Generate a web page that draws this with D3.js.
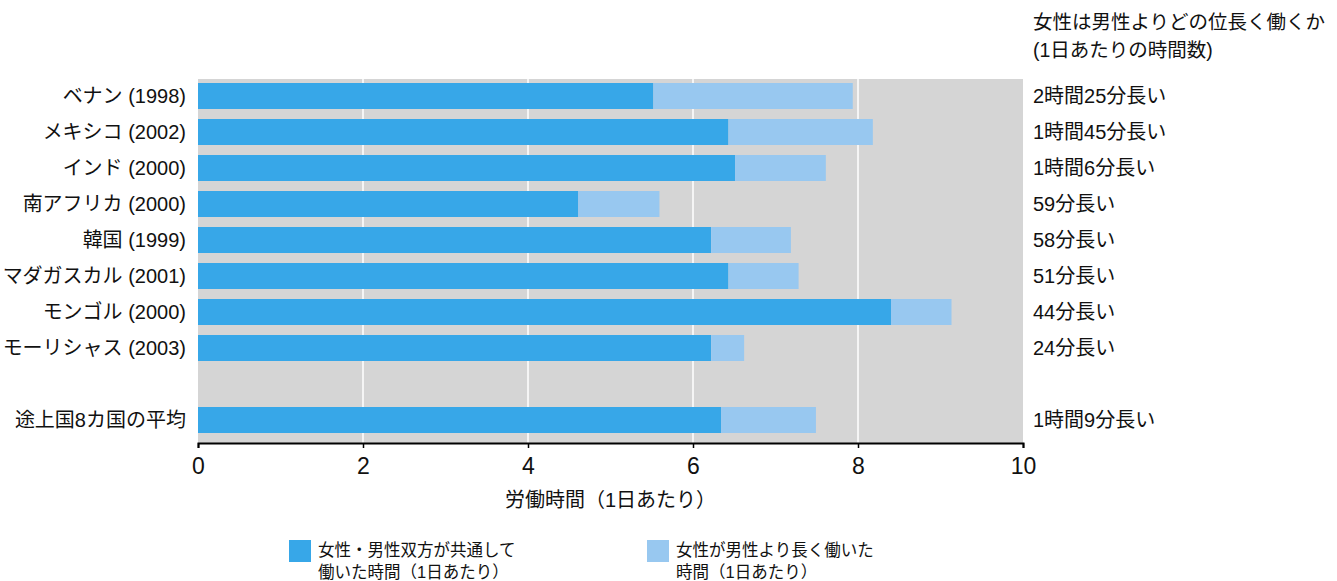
<!DOCTYPE html>
<html lang="ja">
<head>
<meta charset="utf-8">
<script src="https://cdn.jsdelivr.net/npm/d3@7"></script>
<style>
  html, body { margin: 0; padding: 0; background: #fff; }
  svg text { font-family: "Liberation Sans", "Noto Sans CJK JP", sans-serif; fill: #111; }
</style>
</head>
<body>
<svg id="chart" width="1337" height="581"></svg>
<script>
// Countries (survey year); an empty slot separates the individual countries from the average
const categories = [
  "ベナン (1998)", "メキシコ (2002)", "インド (2000)", "南アフリカ (2000)",
  "韓国 (1999)", "マダガスカル (2001)", "モンゴル (2000)", "モーリシャス (2003)",
  "", "途上国8カ国の平均"
];
// Hours per day worked by both women and men
const sharedHours = [5.52, 6.43, 6.51, 4.61, 6.22, 6.43, 8.40, 6.22, null, 6.34];
// Extra minutes per day worked by women
const extraMinutes = [145, 105, 66, 59, 58, 51, 44, 24, null, 69];
const extraLabels = [
  "2時間25分長い", "1時間45分長い", "1時間6分長い", "59分長い", "58分長い",
  "51分長い", "44分長い", "24分長い", "", "1時間9分長い"
];
const xTicks = [0, 2, 4, 6, 8, 10];
const gridTicks = [2, 4, 6, 8];
const titleLines = ["女性は男性よりどの位長く働くか", "(1日あたりの時間数)"];
const axisTitle = "労働時間（1日あたり）";
const legendItems = [
  { lines: ["女性・男性双方が共通して", "働いた時間（1日あたり）"], color: "#37A7E8" },
  { lines: ["女性が男性より長く働いた", "時間（1日あたり）"], color: "#98C8F0" }
];

const colorShared = "#37A7E8";
const colorExtra = "#98C8F0";

const svg = d3.select("#chart");
const plotLeft = 198, plotRight = 1023, plotTop = 79, plotBottom = 443;

const x = d3.scaleLinear().domain([0, 10]).range([plotLeft, plotRight]);
const y = d3.scaleBand().domain(d3.range(categories.length)).range([78, 438]).paddingInner(0.28).paddingOuter(0.14);

// Plot background
svg.append("rect")
  .attr("x", plotLeft).attr("y", plotTop)
  .attr("width", plotRight - plotLeft).attr("height", plotBottom - plotTop)
  .attr("fill", "#D5D5D5");

// Vertical gridlines
svg.append("g").selectAll("line").data(gridTicks).join("line")
  .attr("x1", d => x(d)).attr("x2", d => x(d))
  .attr("y1", plotTop).attr("y2", plotBottom)
  .attr("stroke", "#fff").attr("stroke-width", 1.5);

const rows = d3.range(categories.length).filter(i => sharedHours[i] != null);
const bh = 26;
const rowCenter = i => y(i) + y.bandwidth() / 2;

// Shared hours
svg.append("g").selectAll("rect").data(rows).join("rect")
  .attr("x", x(0))
  .attr("y", i => rowCenter(i) - bh / 2)
  .attr("width", i => x(sharedHours[i]) - x(0))
  .attr("height", bh)
  .attr("fill", colorShared);

// Extra hours worked by women
svg.append("g").selectAll("rect").data(rows).join("rect")
  .attr("x", i => x(sharedHours[i]))
  .attr("y", i => rowCenter(i) - bh / 2)
  .attr("width", i => x(sharedHours[i] + extraMinutes[i] / 60) - x(sharedHours[i]))
  .attr("height", bh)
  .attr("fill", colorExtra);

// Category labels
svg.append("g").selectAll("text").data(rows).join("text")
  .attr("x", 186).attr("y", i => rowCenter(i))
  .attr("dy", "0.36em")
  .attr("text-anchor", "end")
  .style("font-size", "20px")
  .text(i => categories[i]);

// Difference labels
svg.append("g").selectAll("text").data(rows).join("text")
  .attr("x", 1033).attr("y", i => rowCenter(i))
  .attr("dy", "0.36em")
  .style("font-size", "20px")
  .text(i => extraLabels[i]);

// Column title
svg.append("g").selectAll("text").data(titleLines).join("text")
  .attr("x", 1033).attr("y", (d, i) => 22 + i * 28)
  .attr("dy", "0.36em")
  .style("font-size", "19.5px")
  .text(d => d);

// X axis
const axis = svg.append("g")
  .attr("transform", `translate(0,${plotBottom})`)
  .call(d3.axisBottom(x).tickValues(xTicks).tickSize(5).tickSizeOuter(5).tickFormat(d3.format("d")));
axis.select(".domain").attr("stroke", "#000").attr("stroke-width", 2);
axis.selectAll(".tick line").attr("stroke", "#000").attr("stroke-width", 1.5);
axis.selectAll(".tick text")
  .attr("y", 15)
  .style("font-family", "'Liberation Sans', Arial, sans-serif")
  .style("font-size", "23px")
  .attr("fill", "#111");

svg.append("text")
  .attr("x", (plotLeft + plotRight) / 2).attr("y", 500)
  .attr("dy", "0.36em")
  .attr("text-anchor", "middle")
  .style("font-size", "20px")
  .text(axisTitle);

// Legend
const legendX = [289, 647];
const lg = svg.append("g").selectAll("g").data(legendItems).join("g")
  .attr("transform", (d, i) => `translate(${legendX[i]},540)`);
lg.append("rect").attr("width", 22).attr("height", 22).attr("fill", d => d.color);
lg.append("text")
  .style("font-size", "16.5px")
  .selectAll("tspan").data(d => d.lines).join("tspan")
  .attr("x", 29).attr("y", (d, i) => 16 + i * 22)
  .text(d => d);
</script>
</body>
</html>
